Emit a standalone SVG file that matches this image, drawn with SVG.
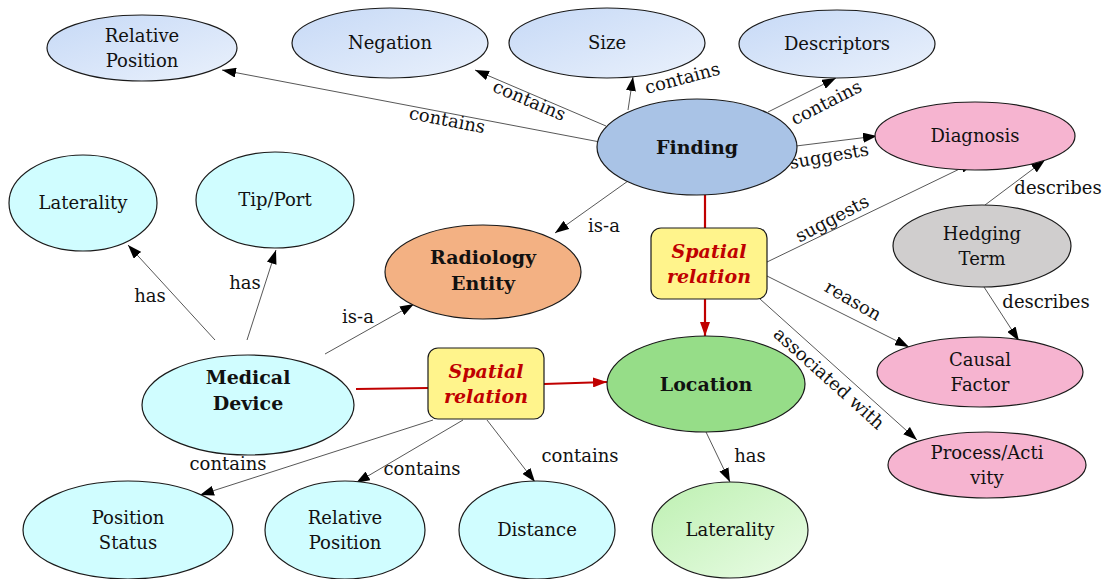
<svg xmlns="http://www.w3.org/2000/svg" width="1104" height="579" viewBox="0 0 1104 579">
  <style>
    .node ellipse, .node rect { stroke: #1a1a1a; stroke-width: 1.2; }
    .lbl { font-family: "DejaVu Serif", Georgia, serif; font-size: 18px; fill: #111; text-anchor: middle; }
    .bold { font-weight: bold; font-size: 19px; }
    .rel { font-family: "DejaVu Serif", Georgia, serif; font-size: 19px; font-weight: bold; font-style: italic; fill: #c00000; text-anchor: middle; }
    .edge { stroke: #444; stroke-width: 0.9; fill: none; marker-end: url(#arrow); }
    .red { stroke: #c00000; stroke-width: 2.2; fill: none; }
    .elbl { font-family: "DejaVu Serif", Georgia, serif; font-size: 18px; fill: #111; text-anchor: middle; }
    .blue { fill: url(#gBlue); }
    .cyan { fill: #d0fdff; }
    .pink { fill: #f6b4d0; }
  </style>
  <defs>
    <linearGradient id="gBlue" x1="0" y1="0" x2="1" y2="1">
      <stop offset="0" stop-color="#c6d9f6"/>
      <stop offset="1" stop-color="#eaf1fc"/>
    </linearGradient>
    <linearGradient id="gGreen" x1="0" y1="0" x2="1" y2="1">
      <stop offset="0" stop-color="#bdf0b1"/>
      <stop offset="1" stop-color="#eafce6"/>
    </linearGradient>
    <marker id="arrow" viewBox="0 0 14 10" refX="14" refY="5" markerWidth="14" markerHeight="10" markerUnits="userSpaceOnUse" orient="auto">
      <path d="M0,0 L14,5 L0,10 Z" fill="#000"/>
    </marker>
    <marker id="arrowRed" viewBox="0 0 14 10" refX="14" refY="5" markerWidth="14" markerHeight="10" markerUnits="userSpaceOnUse" orient="auto">
      <path d="M0,0 L14,5 L0,10 Z" fill="#c00000"/>
    </marker>
  </defs>

  <!-- connectors -->
  <g id="connectors">
    <line class="edge" x1="600" y1="142" x2="222" y2="70"/>
    <line class="edge" x1="606" y1="126" x2="475" y2="70"/>
    <line class="edge" x1="628" y1="110" x2="633" y2="77"/>
    <line class="edge" x1="768" y1="112" x2="836" y2="78"/>
    <line class="edge" x1="796" y1="146" x2="877" y2="136"/>
    <line class="edge" x1="628" y1="181" x2="555" y2="233"/>
    <line class="edge" x1="767" y1="262" x2="974" y2="162"/>
    <line class="edge" x1="767" y1="276" x2="909" y2="347"/>
    <line class="edge" x1="760" y1="299" x2="917" y2="440"/>
    <line class="edge" x1="985" y1="205" x2="1045" y2="160"/>
    <line class="edge" x1="984" y1="287" x2="1019" y2="341"/>
    <line class="edge" x1="215" y1="340" x2="128" y2="245"/>
    <line class="edge" x1="247" y1="340" x2="276" y2="250"/>
    <line class="edge" x1="325" y1="354" x2="414" y2="304"/>
    <line class="edge" x1="433" y1="420" x2="200" y2="495"/>
    <line class="edge" x1="463" y1="420" x2="356" y2="483"/>
    <line class="edge" x1="487" y1="420" x2="535" y2="482"/>
    <line class="edge" x1="706" y1="432" x2="730" y2="482"/>
    <!-- spatial relation links -->
    <line class="red" x1="705" y1="195" x2="705" y2="228"/>
    <line class="red" x1="705" y1="299" x2="705" y2="336" marker-end="url(#arrowRed)"/>
    <line class="red" x1="356" y1="389" x2="428" y2="388"/>
    <line class="red" x1="544" y1="384" x2="607" y2="382" marker-end="url(#arrowRed)"/>

    <text class="elbl" transform="translate(446,126) rotate(11)">contains</text>
    <text class="elbl" transform="translate(527,106) rotate(23)">contains</text>
    <text class="elbl" transform="translate(684,84) rotate(-15)">contains</text>
    <text class="elbl" transform="translate(829,108) rotate(-27)">contains</text>
    <text class="elbl" transform="translate(830,162) rotate(-10)">suggests</text>
    <text class="elbl" x="604" y="232">is-a</text>
    <text class="elbl" transform="translate(835,224) rotate(-28)">suggests</text>
    <text class="elbl" transform="translate(850,306) rotate(30)">reason</text>
    <text class="elbl" transform="translate(825,383) rotate(42)">associated with</text>
    <text class="elbl" x="1058" y="194">describes</text>
    <text class="elbl" x="1046" y="308">describes</text>
    <text class="elbl" x="150" y="302">has</text>
    <text class="elbl" x="245" y="289">has</text>
    <text class="elbl" x="358" y="323">is-a</text>
    <text class="elbl" x="228" y="470">contains</text>
    <text class="elbl" x="422" y="475">contains</text>
    <text class="elbl" x="580" y="462">contains</text>
    <text class="elbl" x="750" y="462">has</text>
  </g>

  <!-- Finding attributes -->
  <g id="relpos-top" class="node">
    <ellipse class="blue" cx="142" cy="48" rx="95" ry="33"/>
    <text class="lbl" x="142" y="42">Relative</text>
    <text class="lbl" x="142" y="67">Position</text>
  </g>
  <g id="negation" class="node">
    <ellipse class="blue" cx="390" cy="43" rx="98" ry="35"/>
    <text class="lbl" x="390" y="49">Negation</text>
  </g>
  <g id="size" class="node">
    <ellipse class="blue" cx="607" cy="43" rx="98" ry="35"/>
    <text class="lbl" x="607" y="49">Size</text>
  </g>
  <g id="descriptors" class="node">
    <ellipse class="blue" cx="837" cy="44" rx="98" ry="34"/>
    <text class="lbl" x="837" y="50">Descriptors</text>
  </g>
  <g id="finding" class="node">
    <ellipse cx="697" cy="147" rx="100" ry="48" fill="#a9c3e6"/>
    <text class="lbl bold" x="697" y="154">Finding</text>
  </g>

  <!-- Diagnosis side -->
  <g id="diagnosis" class="node">
    <ellipse class="pink" cx="975" cy="136" rx="100" ry="34"/>
    <text class="lbl" x="975" y="142">Diagnosis</text>
  </g>
  <g id="hedging" class="node">
    <ellipse cx="982" cy="246" rx="89" ry="41" fill="#d0cece"/>
    <text class="lbl" x="982" y="240">Hedging</text>
    <text class="lbl" x="982" y="265">Term</text>
  </g>
  <g id="causal" class="node">
    <ellipse class="pink" cx="980" cy="372" rx="103" ry="35"/>
    <text class="lbl" x="980" y="366">Causal</text>
    <text class="lbl" x="980" y="391">Factor</text>
  </g>
  <g id="process" class="node">
    <ellipse class="pink" cx="987" cy="465" rx="99" ry="33"/>
    <text class="lbl" x="987" y="459">Process/Acti</text>
    <text class="lbl" x="987" y="484">vity</text>
  </g>

  <!-- Device side -->
  <g id="laterality-dev" class="node">
    <ellipse class="cyan" cx="83" cy="203" rx="74" ry="48"/>
    <text class="lbl" x="83" y="209">Laterality</text>
  </g>
  <g id="tipport" class="node">
    <ellipse class="cyan" cx="275" cy="200" rx="79" ry="48"/>
    <text class="lbl" x="275" y="206">Tip/Port</text>
  </g>
  <g id="radiology" class="node">
    <ellipse cx="483" cy="272" rx="98" ry="47" fill="#f3b183"/>
    <text class="lbl bold" x="483" y="264">Radiology</text>
    <text class="lbl bold" x="483" y="290">Entity</text>
  </g>
  <g id="device" class="node">
    <ellipse class="cyan" cx="248" cy="405" rx="106" ry="50"/>
    <text class="lbl bold" x="248" y="384">Medical</text>
    <text class="lbl bold" x="248" y="410">Device</text>
  </g>
  <g id="location" class="node">
    <ellipse cx="706" cy="384" rx="99" ry="48" fill="#96dd88"/>
    <text class="lbl bold" x="706" y="391">Location</text>
  </g>

  <!-- spatial relations -->
  <g id="spatial-top" class="node">
    <rect x="651" y="228" width="116" height="71" rx="10" fill="#fff48c"/>
    <text class="rel" x="709" y="258">Spatial</text>
    <text class="rel" x="709" y="283">relation</text>
  </g>
  <g id="spatial-bottom" class="node">
    <rect x="428" y="348" width="116" height="71" rx="10" fill="#fff48c"/>
    <text class="rel" x="486" y="378">Spatial</text>
    <text class="rel" x="486" y="403">relation</text>
  </g>

  <!-- bottom row -->
  <g id="position-status" class="node">
    <ellipse class="cyan" cx="128" cy="530" rx="105" ry="49"/>
    <text class="lbl" x="128" y="524">Position</text>
    <text class="lbl" x="128" y="549">Status</text>
  </g>
  <g id="relpos-bottom" class="node">
    <ellipse class="cyan" cx="345" cy="530" rx="80" ry="49"/>
    <text class="lbl" x="345" y="524">Relative</text>
    <text class="lbl" x="345" y="549">Position</text>
  </g>
  <g id="distance" class="node">
    <ellipse class="cyan" cx="537" cy="530" rx="78" ry="49"/>
    <text class="lbl" x="537" y="536">Distance</text>
  </g>
  <g id="laterality-loc" class="node">
    <ellipse cx="730" cy="530" rx="78" ry="48" fill="url(#gGreen)"/>
    <text class="lbl" x="730" y="536">Laterality</text>
  </g>
</svg>
